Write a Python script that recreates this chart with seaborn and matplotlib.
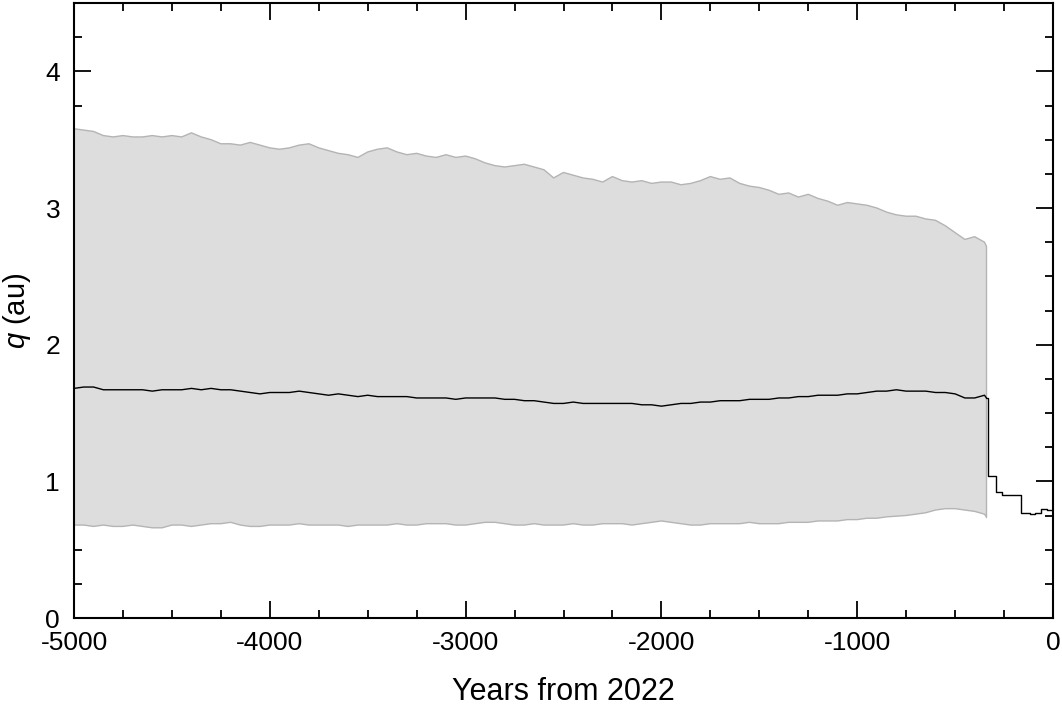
import numpy as np
import pandas as pd
import matplotlib
matplotlib.use('Agg')
import matplotlib.pyplot as plt
import seaborn as sns
from matplotlib.ticker import MultipleLocator

# Envelope of clones (years from 2022), every 50 yr
env_years = [-5000, -4950, -4900, -4850, -4800, -4750, -4700, -4650, -4600, -4550,
             -4500, -4450, -4400, -4350, -4300, -4250, -4200, -4150, -4100, -4050,
             -4000, -3950, -3900, -3850, -3800, -3750, -3700, -3650, -3600, -3550,
             -3500, -3450, -3400, -3350, -3300, -3250, -3200, -3150, -3100, -3050,
             -3000, -2950, -2900, -2850, -2800, -2750, -2700, -2650, -2600, -2550,
             -2500, -2450, -2400, -2350, -2300, -2250, -2200, -2150, -2100, -2050,
             -2000, -1950, -1900, -1850, -1800, -1750, -1700, -1650, -1600, -1550,
             -1500, -1450, -1400, -1350, -1300, -1250, -1200, -1150, -1100, -1050,
             -1000, -950, -900, -850, -800, -750, -700, -650, -600, -550,
             -500, -450, -400, -350, -340]

q_upper = [3.58, 3.57, 3.56, 3.53, 3.52, 3.53, 3.52, 3.52, 3.53, 3.52,
           3.53, 3.52, 3.55, 3.52, 3.50, 3.47, 3.47, 3.46, 3.48, 3.46,
           3.44, 3.43, 3.44, 3.46, 3.47, 3.44, 3.42, 3.40, 3.39, 3.37,
           3.41, 3.43, 3.44, 3.41, 3.39, 3.40, 3.38, 3.37, 3.39, 3.37,
           3.38, 3.36, 3.33, 3.31, 3.30, 3.31, 3.32, 3.30, 3.28, 3.22,
           3.26, 3.24, 3.22, 3.21, 3.19, 3.23, 3.20, 3.19, 3.20, 3.18,
           3.19, 3.19, 3.17, 3.18, 3.20, 3.23, 3.21, 3.22, 3.18, 3.16,
           3.15, 3.13, 3.10, 3.11, 3.08, 3.10, 3.07, 3.05, 3.02, 3.04,
           3.03, 3.02, 3.00, 2.97, 2.95, 2.94, 2.94, 2.92, 2.91, 2.87,
           2.82, 2.77, 2.79, 2.75, 2.72]

q_lower = [0.68, 0.68, 0.67, 0.68, 0.67, 0.67, 0.68, 0.67, 0.66, 0.66,
           0.68, 0.68, 0.67, 0.68, 0.69, 0.69, 0.70, 0.68, 0.67, 0.67,
           0.68, 0.68, 0.68, 0.69, 0.68, 0.68, 0.68, 0.68, 0.67, 0.68,
           0.68, 0.68, 0.68, 0.69, 0.68, 0.68, 0.69, 0.69, 0.69, 0.68,
           0.68, 0.69, 0.70, 0.70, 0.69, 0.68, 0.68, 0.69, 0.68, 0.68,
           0.68, 0.69, 0.68, 0.68, 0.69, 0.69, 0.69, 0.68, 0.69, 0.70,
           0.71, 0.70, 0.69, 0.68, 0.68, 0.69, 0.69, 0.69, 0.69, 0.70,
           0.69, 0.69, 0.69, 0.70, 0.70, 0.70, 0.71, 0.71, 0.71, 0.72,
           0.72, 0.73, 0.73, 0.74, 0.745, 0.75, 0.76, 0.77, 0.79, 0.80,
           0.80, 0.79, 0.78, 0.76, 0.74]

# Nominal orbit before the close approach (same years as the envelope)
q_nominal = [1.68, 1.69, 1.69, 1.67, 1.67, 1.67, 1.67, 1.67, 1.66, 1.67,
             1.67, 1.67, 1.68, 1.67, 1.68, 1.67, 1.67, 1.66, 1.65, 1.64,
             1.65, 1.65, 1.65, 1.66, 1.65, 1.64, 1.63, 1.64, 1.63, 1.62,
             1.63, 1.62, 1.62, 1.62, 1.62, 1.61, 1.61, 1.61, 1.61, 1.60,
             1.61, 1.61, 1.61, 1.61, 1.60, 1.60, 1.59, 1.59, 1.58, 1.57,
             1.57, 1.58, 1.57, 1.57, 1.57, 1.57, 1.57, 1.57, 1.56, 1.56,
             1.55, 1.56, 1.57, 1.57, 1.58, 1.58, 1.59, 1.59, 1.59, 1.60,
             1.60, 1.60, 1.61, 1.61, 1.62, 1.62, 1.63, 1.63, 1.63, 1.64,
             1.64, 1.65, 1.66, 1.66, 1.67, 1.66, 1.66, 1.66, 1.65, 1.65,
             1.64, 1.61, 1.61, 1.63, 1.61]

# Nominal orbit after it (step-like jumps)
tail_years = [-340, -330, -290, -260, -165, -120, -90, -60, -30, 0]
q_tail = [1.61, 1.04, 0.92, 0.90, 0.77, 0.76, 0.77, 0.80, 0.79, 0.80]

env = pd.DataFrame({'year': env_years, 'upper': q_upper, 'lower': q_lower,
                    'q': q_nominal})
tail = pd.DataFrame({'year': tail_years, 'q': q_tail})

sns.set_theme(style='ticks')
plt.rcParams['font.family'] = ['Liberation Sans', 'DejaVu Sans']
plt.rcParams['mathtext.fontset'] = 'custom'
plt.rcParams['mathtext.it'] = 'Liberation Sans:italic'
plt.rcParams['mathtext.rm'] = 'Liberation Sans'
plt.rcParams['axes.unicode_minus'] = False

fig = plt.figure(figsize=(10.62, 7.09), dpi=100)
ax = fig.add_axes([74 / 1062, 1 - 618 / 709, 979 / 1062, 615 / 709])

ax.fill_between(env['year'], env['lower'], env['upper'],
                facecolor='#dddddd', edgecolor='none', zorder=1)
sns.lineplot(data=env, x='year', y='upper', color='#b4b4b4', lw=1.0,
             estimator=None, ax=ax, zorder=2)
sns.lineplot(data=env, x='year', y='lower', color='#b4b4b4', lw=1.0,
             estimator=None, ax=ax, zorder=2)
ax.plot([env_years[-1], env_years[-1]], [q_lower[-1], q_upper[-1]],
        color='#b4b4b4', lw=1.0, zorder=2)
sns.lineplot(data=env, x='year', y='q', color='black', lw=1.0,
             estimator=None, ax=ax, zorder=3)
sns.lineplot(data=tail, x='year', y='q', color='black', lw=1.0,
             estimator=None, drawstyle='steps-post', ax=ax, zorder=3)

ax.set_xlim(-5000, 0)
ax.set_ylim(0, 4.5)
ax.xaxis.set_major_locator(MultipleLocator(1000))
ax.xaxis.set_minor_locator(MultipleLocator(250))
ax.yaxis.set_major_locator(MultipleLocator(1))
ax.yaxis.set_minor_locator(MultipleLocator(0.25))

ax.tick_params(which='both', direction='in', top=True, right=True,
               color='black', width=1.3, labelsize=19, labelcolor='black')
ax.tick_params(which='major', length=12)
ax.tick_params(which='minor', length=6)
ax.tick_params(axis='x', which='major', pad=9)
ax.tick_params(axis='y', which='major', pad=10)
for sp in ax.spines.values():
    sp.set_visible(True)
    sp.set_color('black')
    sp.set_linewidth(1.5)

ax.set_xlabel('Years from 2022', fontsize=22, color='black', labelpad=16)
ax.set_ylabel(r'$q$ (au)', fontsize=21, color='black', labelpad=9)

plt.savefig('out.png', dpi=100)
